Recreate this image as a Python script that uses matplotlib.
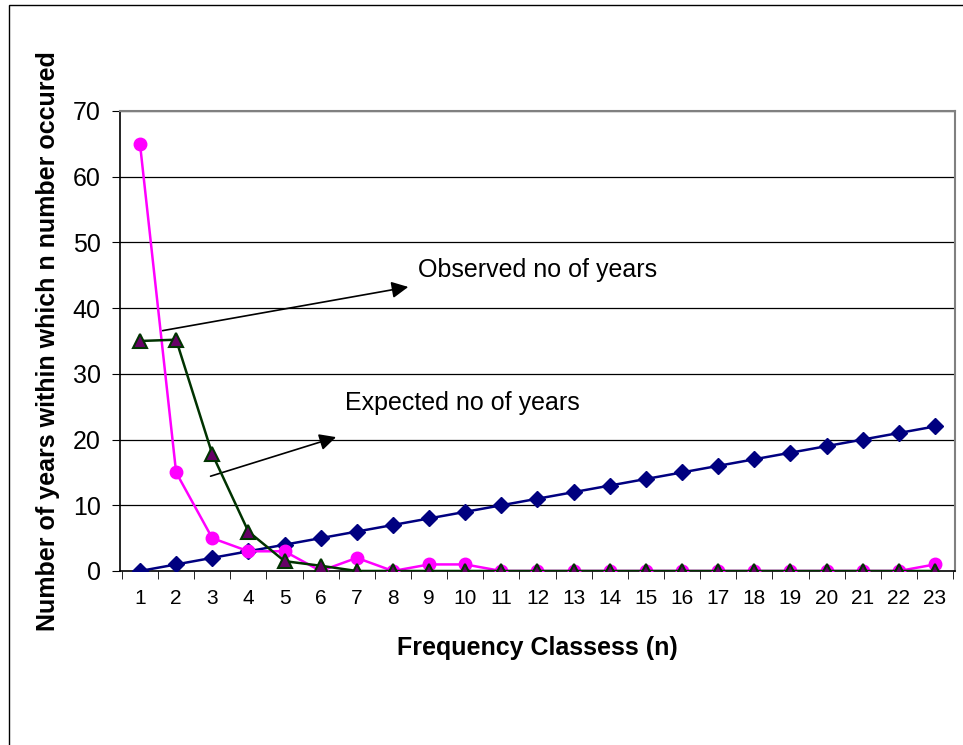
import matplotlib.pyplot as plt
from matplotlib.patches import Rectangle

## Data
classes = list(range(1, 24))
expected_diag = list(range(0, 23))
observed = [65, 15, 5, 3, 3, 0, 2, 0, 1, 1, 0, 0, 0, 0, 0, 0, 0, 0, 0, 0, 0, 0, 1]
expected = [35, 35.2, 17.8, 6, 1.5, 0.8, 0, 0, 0, 0, 0, 0, 0, 0, 0, 0, 0, 0, 0, 0, 0, 0, 0]
y_ticks = [0, 10, 20, 30, 40, 50, 60, 70]

plt.rcParams['font.family'] = ['Liberation Sans', 'DejaVu Sans']

fig = plt.figure(figsize=(9.63, 7.45), dpi=100)
ax = fig.add_axes([120/963, 174/745, 835/963, 460/745])

# outer frame of the chart
fig.patches.append(Rectangle((9/963, -0.01), 1.0, 1.0 - 5/745 + 0.01, transform=fig.transFigure,
                             fill=False, edgecolor='black', linewidth=1))

for y in y_ticks[1:]:
    ax.axhline(y, color='black', linewidth=0.9, zorder=1)

ax.plot(classes, expected_diag, color='#000080', marker='D', markersize=8,
        markerfacecolor='#000080', markeredgecolor='#000080', linewidth=1.8, zorder=3)
ax.plot(classes, observed, color='#FF00FF', marker='o', markersize=9,
        markerfacecolor='#FF00FF', markeredgecolor='#FF00FF', linewidth=1.8, zorder=4)
ax.plot(classes, expected, color='#003300', marker='^', markersize=10,
        markerfacecolor='#660066', markeredgecolor='#003300', markeredgewidth=1.5,
        linewidth=1.8, zorder=5)

ax.set_xlim(0.447, 23.554)
ax.set_ylim(0, 70)
ax.set_yticks(y_ticks)
ax.set_xticks(classes)
ax.set_xticks([i + 0.5 for i in range(0, 24)], minor=True)
ax.tick_params(axis='x', which='major', length=0, labelsize=15, pad=13)
ax.tick_params(axis='x', which='minor', length=6, direction='out', color='black')
ax.tick_params(axis='y', length=6, direction='out', labelsize=18, pad=8)

for side in ['top', 'right']:
    ax.spines[side].set_color('#808080')
    ax.spines[side].set_linewidth(1.5)
for side in ['left', 'bottom']:
    ax.spines[side].set_color('black')
    ax.spines[side].set_linewidth(1.2)

ax.set_xlabel('Frequency Classess (n)', fontsize=18, fontweight='bold', labelpad=20)
ax.set_ylabel('Number of years within which n number occured', fontsize=18,
              fontweight='bold', labelpad=9)

# annotations
ax.annotate('', xy=(8.5, 43.3), xytext=(1.55, 36.5),
            arrowprops=dict(arrowstyle='-|>', color='black', lw=1.2, mutation_scale=25))
ax.text(8.7, 45.8, 'Observed no of years', fontsize=18, va='center', ha='left')
ax.annotate('', xy=(6.5, 20.5), xytext=(2.88, 14.3),
            arrowprops=dict(arrowstyle='-|>', color='black', lw=1.2, mutation_scale=25))
ax.text(6.66, 25.5, 'Expected no of years', fontsize=18, va='center', ha='left')

fig.savefig('out.png', dpi=100)
